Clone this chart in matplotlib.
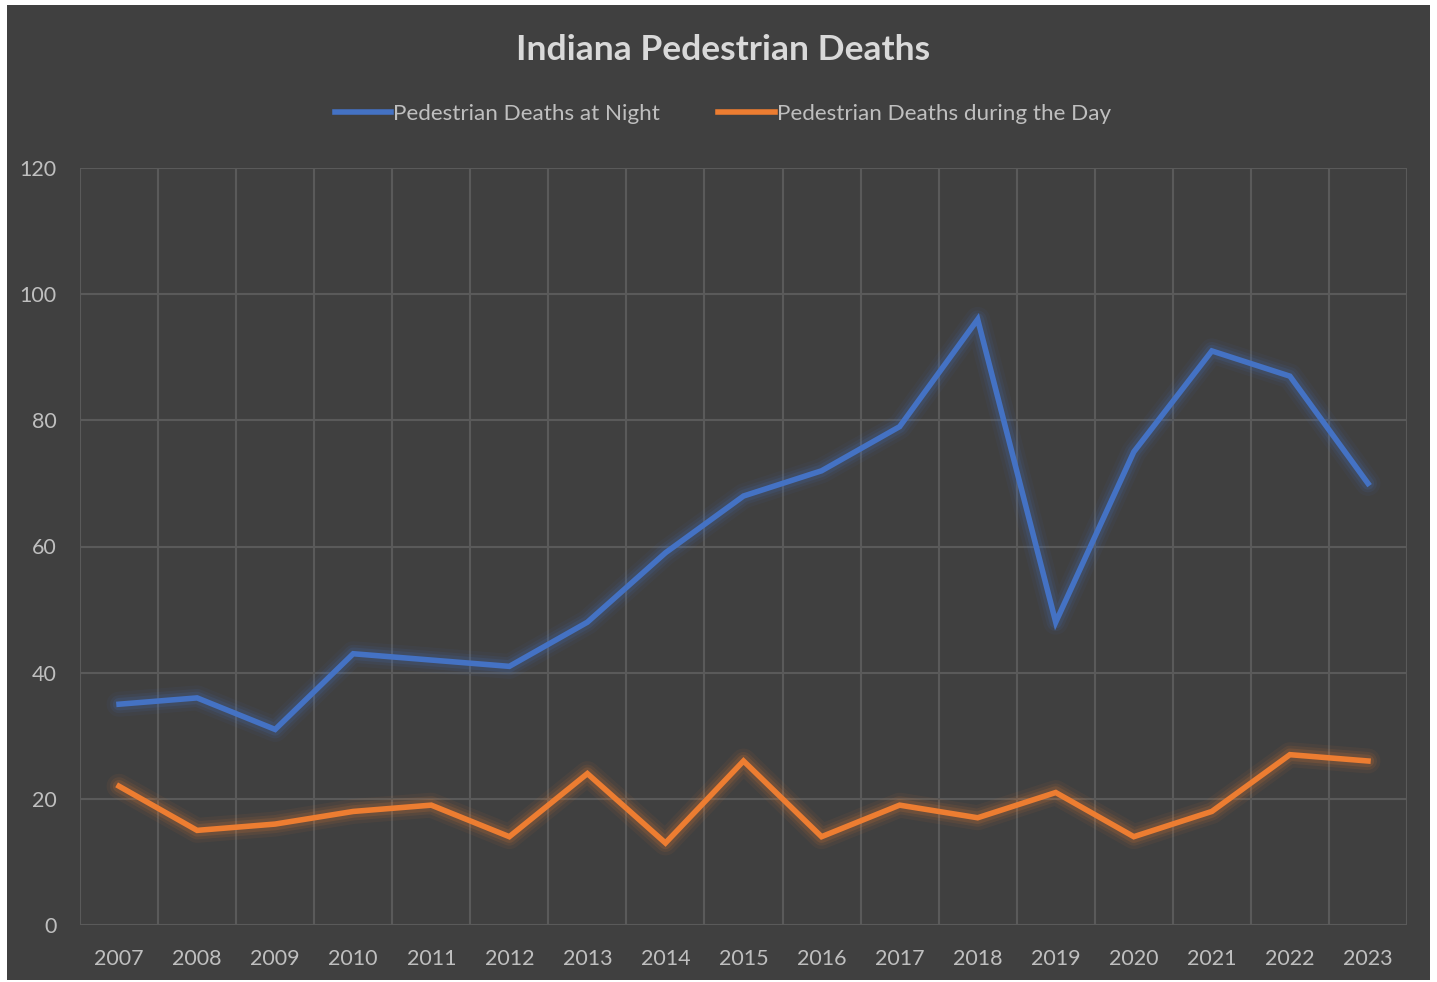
import numpy as np
import matplotlib.pyplot as plt
from matplotlib.patches import Rectangle

years = [str(y) for y in range(2007, 2024)]
night = [35, 36, 31, 43, 42, 41, 48, 59, 68, 72, 79, 96, 48, 75, 91, 87, 70]
day = [22, 15, 16, 18, 19, 14, 24, 13, 26, 14, 19, 17, 21, 14, 18, 27, 26]

plt.rcParams['font.family'] = ['Lato', 'DejaVu Sans']
bg = '#404040'
grid = '#5a5a5a'
txt = '#bfbfbf'

fig = plt.figure(figsize=(14.37, 9.82), dpi=100, facecolor='white')
fig.patches.append(Rectangle((7 / 1437, 2 / 982), 1423 / 1437, 975 / 982,
                             transform=fig.transFigure, facecolor=bg,
                             edgecolor='none', zorder=-1))

ax = fig.add_axes([80 / 1437, 57 / 982, 1327 / 1437, 757 / 982])
ax.set_facecolor(bg)
x = np.arange(len(years))

for vals, col, lab in [(night, '#4472C4', 'Pedestrian Deaths at Night'),
                       (day, '#ED7D31', 'Pedestrian Deaths during the Day')]:
    for w, a in [(18, 0.06), (13, 0.09), (9, 0.14)]:
        ax.plot(x, vals, color=col, lw=w, alpha=a, solid_capstyle='round',
                solid_joinstyle='round', zorder=2)
    ax.plot(x, vals, color=col, lw=4, label=lab, zorder=3,
            solid_joinstyle='miter')

ax.set_xlim(-0.5, len(years) - 0.5)
ax.set_ylim(0, 120)
ax.set_yticks(range(0, 121, 20))
ax.set_xticks(x)
ax.set_xticklabels(years)
ax.set_xticks(np.arange(-0.5, len(years), 1), minor=True)
ax.grid(axis='y', which='major', color=grid, lw=1.5)
ax.grid(axis='x', which='minor', color=grid, lw=1.5)
ax.tick_params(which='both', length=0, colors=txt, labelsize=15.5)
ax.tick_params(axis='y', pad=17)
ax.tick_params(axis='x', pad=17)
for s in ax.spines.values():
    s.set_visible(False)

fig.text(0.503, 1 - 50 / 982, 'Indiana Pedestrian Deaths', ha='center',
         va='center', fontsize=25.5, fontweight='bold', color='#d9d9d9')
leg = fig.legend(loc='center', bbox_to_anchor=(0.503, 1 - 114 / 982), ncol=2,
                 frameon=False, fontsize=16.2, labelcolor=txt,
                 handlelength=2.5, handletextpad=0.1, columnspacing=2.6)

fig.savefig('out.png', dpi=100, facecolor='white')
